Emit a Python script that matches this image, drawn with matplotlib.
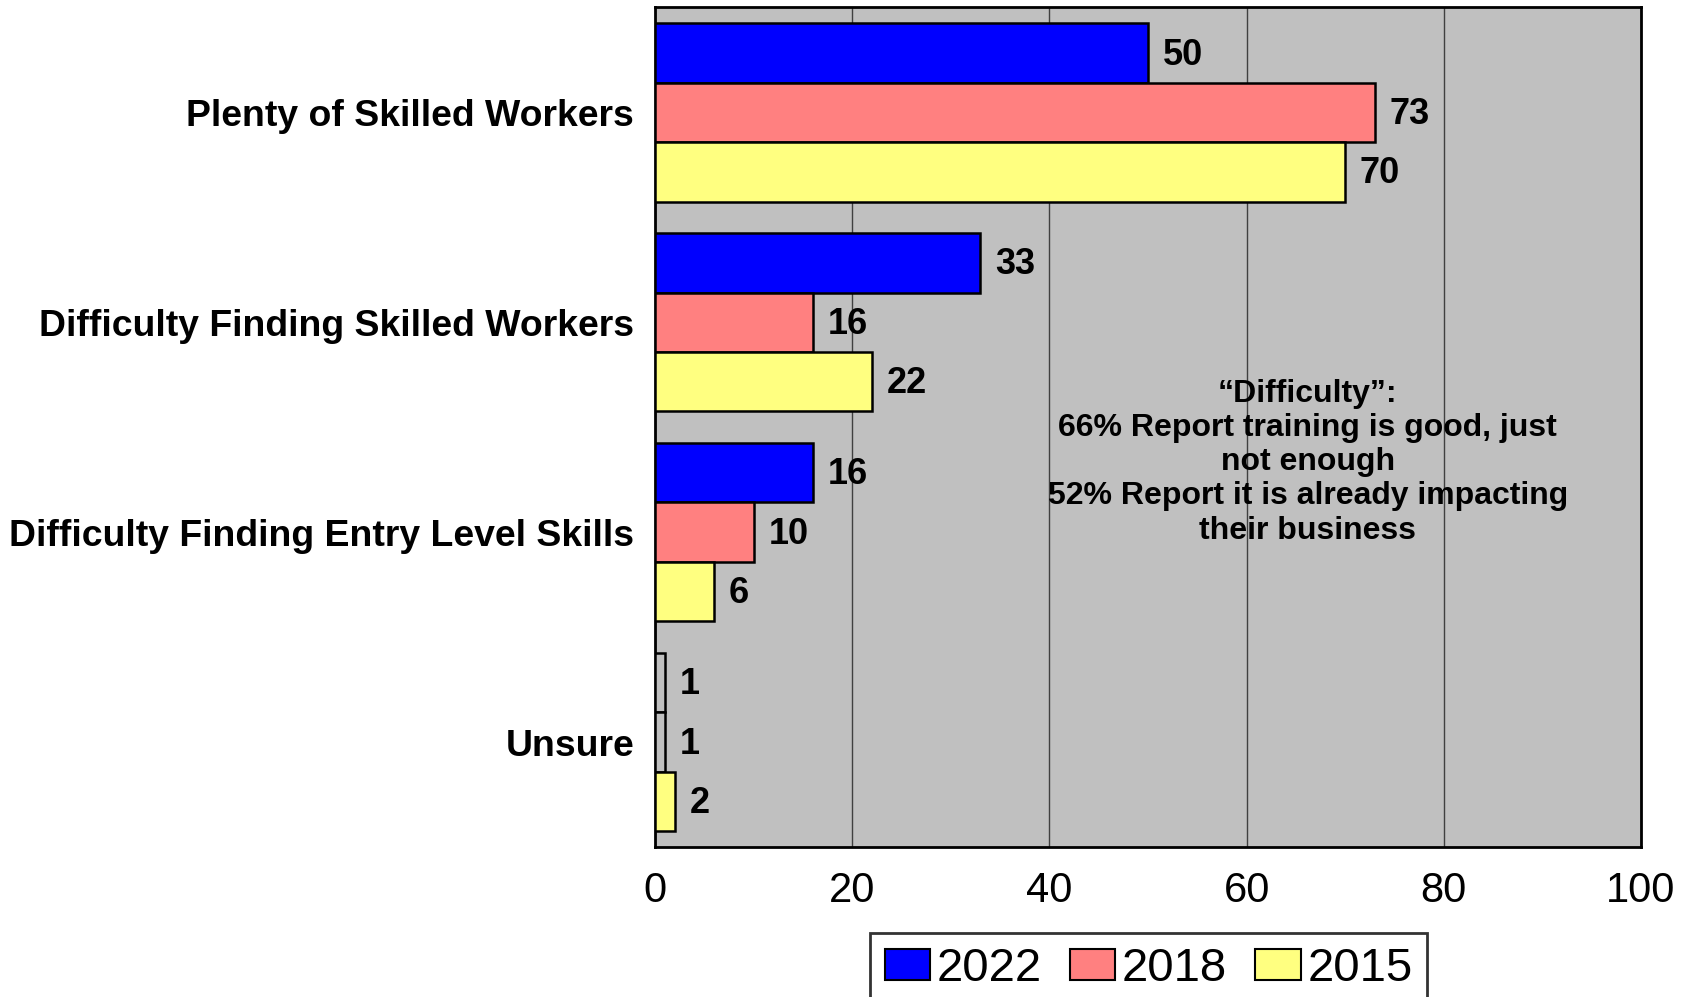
import numpy as np
import matplotlib
matplotlib.use('Agg')
import matplotlib.pyplot as plt

plt.rcParams['font.family'] = ['Liberation Sans', 'DejaVu Sans']

# 数据
categories = ['Plenty of Skilled Workers', 'Difficulty Finding Skilled Workers',
              'Difficulty Finding Entry Level Skills', 'Unsure']
years = ['2022', '2018', '2015']
values_2022 = [50, 33, 16, 1]
values_2018 = [73, 16, 10, 1]
values_2015 = [70, 22, 6, 2]
note_text = ('\u201cDifficulty\u201d:\n66% Report training is good, just\nnot enough\n'
             '52% Report it is already impacting\ntheir business')

colors = ['#0000FF', '#FF8080', '#FFFF80']
bg = '#C0C0C0'

fig = plt.figure(figsize=(16.94, 9.97), dpi=100)
ax = fig.add_axes([0.3867, 0.1505, 0.5820, 0.8420])
ax.set_facecolor(bg)

y = np.arange(len(categories))
h = 0.283
series = [values_2022, values_2018, values_2015]
for k, (vals, c) in enumerate(zip(series, colors)):
    # 值为1的bar在原图里几乎看不到颜色
    fcs = [c if v > 1 else bg for v in vals]
    ax.barh(y + (k - 1) * h, vals, height=h, color=fcs, edgecolor='black',
            linewidth=1.8, zorder=3, label=years[k])
    for yi, v in zip(y + (k - 1) * h, vals):
        ax.text(v + 1.5, yi + 0.01, str(v), va='center', ha='left', fontsize=26,
                fontweight='bold', zorder=4)

ax.set_xlim(0, 100)
ax.set_ylim(3.5, -0.5)
ax.set_xticks([0, 20, 40, 60, 80, 100])
ax.set_yticks(y)
ax.set_yticklabels(categories, fontsize=26.9, fontweight='bold')
ax.tick_params(axis='x', labelsize=30, length=0, pad=17)
ax.tick_params(axis='y', length=0, pad=15)
ax.xaxis.grid(True, color='#404040', linewidth=1.0, zorder=1)
ax.set_axisbelow(True)
for s in ax.spines.values():
    s.set_linewidth(2)

ax.text(66.2, 1.667, note_text, ha='center', va='center', fontsize=23,
        fontweight='bold', linespacing=1.18, zorder=4)

# 图例，下边缘超出画布
handles = [plt.Rectangle((0, 0), 1, 1, facecolor=c, edgecolor='black', linewidth=1.5)
           for c in colors]
leg = fig.legend(handles, years, loc='upper center', bbox_to_anchor=(0.678, 0.064),
                 ncol=3, fontsize=34, frameon=True, fancybox=False, edgecolor='black',
                 handlelength=0.96, handleheight=0.64, handletextpad=0.14,
                 columnspacing=0.6, borderpad=0.3, borderaxespad=0)
leg.get_frame().set_linewidth(2)

fig.savefig('out.png', dpi=100)
